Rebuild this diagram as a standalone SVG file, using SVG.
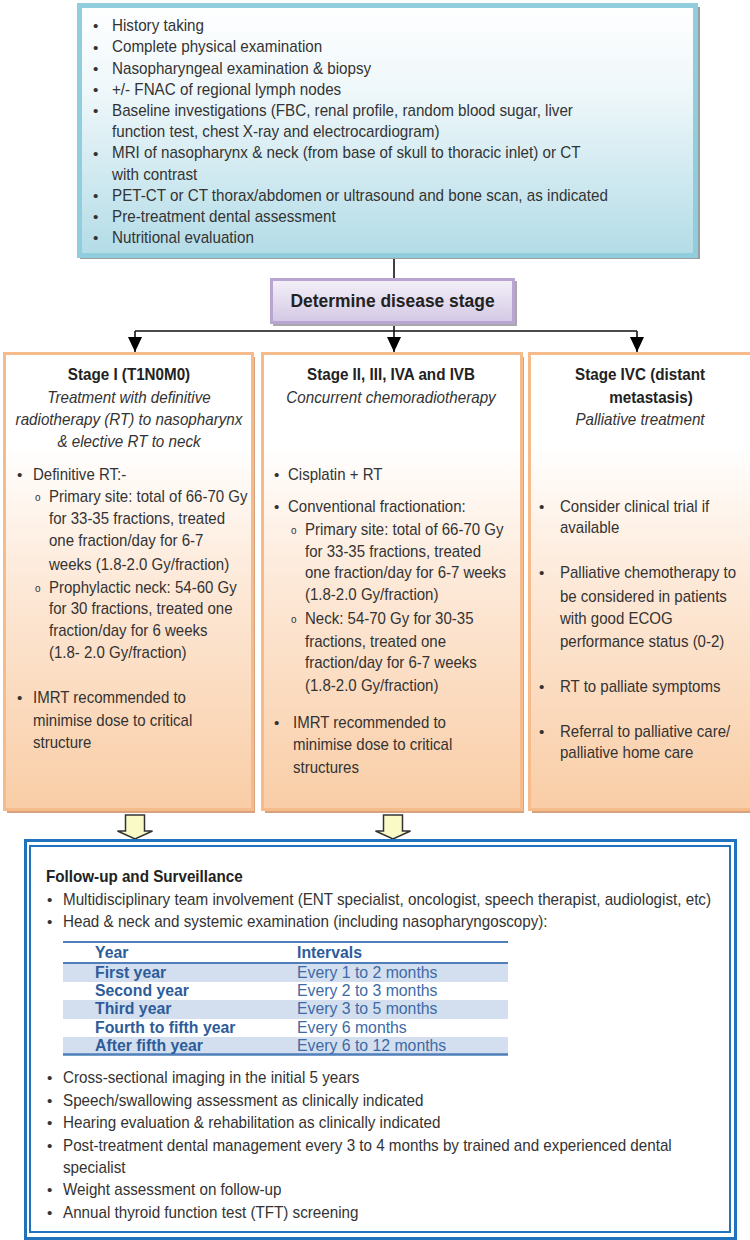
<svg xmlns="http://www.w3.org/2000/svg" width="750" height="1240" viewBox="0 0 750 1240">
<defs>
<linearGradient id="gTop" x1="0" y1="0" x2="0" y2="1">
<stop offset="0" stop-color="#ffffff"/>
<stop offset="0.35" stop-color="#eef7fa"/>
<stop offset="1" stop-color="#b3dce7"/>
</linearGradient>
<linearGradient id="gPur" x1="0" y1="0" x2="0" y2="1">
<stop offset="0" stop-color="#f4f0f9"/>
<stop offset="1" stop-color="#d3c8e4"/>
</linearGradient>
<linearGradient id="gStage" x1="0" y1="0" x2="0" y2="1">
<stop offset="0" stop-color="#ffffff"/>
<stop offset="0.2" stop-color="#ffffff"/>
<stop offset="0.5" stop-color="#fde9d8"/>
<stop offset="1" stop-color="#f9cda6"/>
</linearGradient>
<marker id="ah" markerUnits="userSpaceOnUse" markerWidth="16" markerHeight="16" refX="15" refY="7" orient="auto">
<path d="M0,0 L15,7 L0,14 z" fill="#000"/>
</marker>
<style>
text{font-family:"Liberation Sans",Arial,sans-serif;fill:#333}
.tb{font-size:16.4px}
.sb{font-size:16.2px}
.bu{font-size:15.2px}
.ttl{font-size:16.4px;font-weight:bold;fill:#222}
.it{font-size:16.4px;font-style:italic}
.sub{font-size:10px}
.th{font-size:15.8px;font-weight:bold;fill:#2d5c9b}
.tv{font-size:15.8px;fill:#3d6aa7}
.mid{text-anchor:middle}
.stage{fill:url(#gStage);stroke:#f6bb8b;stroke-width:3}
.stsh{fill:#d8a27c}
.blk{fill:#fafac6;stroke:#333;stroke-width:1.5}
.conn{stroke:#111;stroke-width:1.6;fill:none}
</style>
</defs>

<g id="connectors">
<line class="conn" x1="394" y1="258" x2="394" y2="279"/>
<line class="conn" x1="394" y1="323" x2="394" y2="331"/>
<line class="conn" x1="135" y1="331" x2="637" y2="331"/>
<line class="conn" x1="135" y1="331" x2="135" y2="352" marker-end="url(#ah)"/>
<line class="conn" x1="394" y1="331" x2="394" y2="352" marker-end="url(#ah)"/>
<line class="conn" x1="637" y1="331" x2="637" y2="352" marker-end="url(#ah)"/>
<polygon class="blk" points="125.5,815 144.5,815 144.5,831 152.5,831 135,839 117.5,831 125.5,831"/>
<polygon class="blk" points="383.5,815 402.5,815 402.5,831 410.5,831 393,839 375.5,831 383.5,831"/>
</g>

<g id="workup">
<rect x="80" y="7" width="620" height="252" fill="#9c9c9c"/>
<rect x="79.5" y="5.5" width="616" height="250" fill="url(#gTop)" stroke="#90cede" stroke-width="5"/>
<g class="bu">
<text x="93" y="31.3">•</text>
<text x="93" y="52.5">•</text>
<text x="93" y="73.7">•</text>
<text x="93" y="94.9">•</text>
<text x="93" y="116.1">•</text>
<text x="93" y="158.5">•</text>
<text x="93" y="200.9">•</text>
<text x="93" y="222.1">•</text>
<text x="93" y="243.3">•</text>
</g>
<g class="tb" transform="translate(112,0) scale(0.927,1)">
<text x="0" y="31.3">History taking</text>
<text x="0" y="52.5">Complete physical examination</text>
<text x="0" y="73.7">Nasopharyngeal examination &amp; biopsy</text>
<text x="0" y="94.9">+/- FNAC of regional lymph nodes</text>
<text x="0" y="116.1">Baseline investigations (FBC, renal profile, random blood sugar, liver</text>
<text x="0" y="137.3">function test, chest X-ray and electrocardiogram)</text>
<text x="0" y="158.5">MRI of nasopharynx &amp; neck (from base of skull to thoracic inlet) or CT</text>
<text x="0" y="179.7">with contrast</text>
<text x="0" y="200.9">PET-CT or CT thorax/abdomen or ultrasound and bone scan, as indicated</text>
<text x="0" y="222.1">Pre-treatment dental assessment</text>
<text x="0" y="243.3">Nutritional evaluation</text>
</g>
</g>

<g id="determine">
<rect x="273" y="281" width="244" height="45" fill="#a9a9a9"/>
<rect x="271.5" y="279.5" width="242" height="43" fill="url(#gPur)" stroke="#b8a5d2" stroke-width="3"/>
<g transform="translate(392.5,0) scale(0.927,1)">
<text x="0" y="307" class="mid" style="font-size:18.8px;font-weight:bold;fill:#222">Determine disease stage</text>
</g>
</g>

<g id="stage1">
<rect x="7" y="357" width="248" height="456" class="stsh"/>
<rect x="4.5" y="353.5" width="248" height="456" class="stage"/>
<g transform="translate(129,0) scale(0.927,1)">
<text x="0" y="380" class="ttl mid">Stage I (T1N0M0)</text>
<text x="0" y="403" class="it mid">Treatment with definitive</text>
<text x="0" y="425" class="it mid">radiotherapy (RT) to nasopharynx</text>
<text x="0" y="447" class="it mid">&amp; elective RT to neck</text>
</g>
<g class="bu">
<text x="17" y="480">•</text>
<text x="35" y="501" class="sub">o</text>
<text x="35" y="592" class="sub">o</text>
<text x="17" y="703">•</text>
</g>
<g class="sb" transform="translate(33,0) scale(0.927,1)">
<text x="0" y="480">Definitive RT:-</text>
<text x="0" y="703">IMRT recommended to</text>
<text x="0" y="726">minimise dose to critical</text>
<text x="0" y="748">structure</text>
</g>
<g class="sb" transform="translate(49,0) scale(0.927,1)">
<text x="0" y="502">Primary site: total of 66-70 Gy</text>
<text x="0" y="524">for 33-35 fractions, treated</text>
<text x="0" y="546">one fraction/day for 6-7</text>
<text x="0" y="570">weeks (1.8-2.0 Gy/fraction)</text>
<text x="0" y="593">Prophylactic neck: 54-60 Gy</text>
<text x="0" y="614">for 30 fractions, treated one</text>
<text x="0" y="636">fraction/day for 6 weeks</text>
<text x="0" y="658">(1.8- 2.0 Gy/fraction)</text>
</g>
</g>

<g id="stage2">
<rect x="265" y="357" width="259" height="456" class="stsh"/>
<rect x="262.5" y="353.5" width="259" height="456" class="stage"/>
<g transform="translate(391,0) scale(0.927,1)">
<text x="0" y="380" class="ttl mid">Stage II, III, IVA and IVB</text>
<text x="0" y="403" class="it mid">Concurrent chemoradiotherapy</text>
</g>
<g class="bu">
<text x="274" y="480">•</text>
<text x="274" y="512">•</text>
<text x="291" y="534" class="sub">o</text>
<text x="291" y="623" class="sub">o</text>
<text x="274" y="728">•</text>
</g>
<g class="sb" transform="translate(288,0) scale(0.927,1)">
<text x="0" y="480">Cisplatin + RT</text>
<text x="0" y="512">Conventional fractionation:</text>
</g>
<g class="sb" transform="translate(305,0) scale(0.927,1)">
<text x="0" y="535">Primary site: total of 66-70 Gy</text>
<text x="0" y="557">for 33-35 fractions, treated</text>
<text x="0" y="578">one fraction/day for 6-7 weeks</text>
<text x="0" y="600">(1.8-2.0 Gy/fraction)</text>
<text x="0" y="624">Neck: 54-70 Gy for 30-35</text>
<text x="0" y="647">fractions, treated one</text>
<text x="0" y="668">fraction/day for 6-7 weeks</text>
<text x="0" y="691">(1.8-2.0 Gy/fraction)</text>
</g>
<g class="sb" transform="translate(293,0) scale(0.927,1)">
<text x="0" y="728">IMRT recommended to</text>
<text x="0" y="750">minimise dose to critical</text>
<text x="0" y="773">structures</text>
</g>
</g>

<g id="stage4c">
<rect x="532" y="357" width="240" height="456" class="stsh"/>
<rect x="529.5" y="353.5" width="240" height="456" class="stage"/>
<g transform="translate(640,0) scale(0.927,1)">
<text x="0" y="380" class="ttl mid">Stage IVC (distant</text>
<text x="0" y="425" class="it mid">Palliative treatment</text>
</g>
<g transform="translate(651,0) scale(0.927,1)">
<text x="0" y="403" class="ttl mid">metastasis)</text>
</g>
<g class="bu">
<text x="539" y="512">•</text>
<text x="539" y="578">•</text>
<text x="539" y="692">•</text>
<text x="539" y="737">•</text>
</g>
<g class="sb" transform="translate(560,0) scale(0.927,1)">
<text x="0" y="512">Consider clinical trial if</text>
<text x="0" y="533">available</text>
<text x="0" y="578">Palliative chemotherapy to</text>
<text x="0" y="602">be considered in patients</text>
<text x="0" y="624">with good ECOG</text>
<text x="0" y="647">performance status (0-2)</text>
<text x="0" y="692">RT to palliate symptoms</text>
<text x="0" y="737">Referral to palliative care/</text>
<text x="0" y="758">palliative home care</text>
</g>
</g>

<g id="followup">
<rect x="25.5" y="840.5" width="710" height="398" fill="#fff" stroke="#1f72bb" stroke-width="3"/>
<rect x="30" y="846" width="700" height="386" fill="none" stroke="#1f72bb" stroke-width="2"/>
<g transform="translate(46,0) scale(0.927,1)">
<text x="0" y="882" class="ttl">Follow-up and Surveillance</text>
</g>
<g class="bu">
<text x="47" y="905">•</text>
<text x="47" y="927">•</text>
<text x="47" y="1083">•</text>
<text x="47" y="1106">•</text>
<text x="47" y="1128">•</text>
<text x="47" y="1151">•</text>
<text x="47" y="1195">•</text>
<text x="47" y="1218">•</text>
</g>
<g class="tb" transform="translate(63,0) scale(0.927,1)">
<text x="0" y="905">Multidisciplinary team involvement (ENT specialist, oncologist, speech therapist, audiologist, etc)</text>
<text x="0" y="927">Head &amp; neck and systemic examination (including nasopharyngoscopy):</text>
<text x="0" y="1083">Cross-sectional imaging in the initial 5 years</text>
<text x="0" y="1106">Speech/swallowing assessment as clinically indicated</text>
<text x="0" y="1128">Hearing evaluation &amp; rehabilitation as clinically indicated</text>
<text x="0" y="1151">Post-treatment dental management every 3 to 4 months by trained and experienced dental</text>
<text x="0" y="1173">specialist</text>
<text x="0" y="1195">Weight assessment on follow-up</text>
<text x="0" y="1218">Annual thyroid function test (TFT) screening</text>
</g>
<g id="table">
<rect x="63" y="963" width="445" height="19" fill="#d3dfee"/>
<rect x="63" y="1000" width="445" height="19" fill="#d3dfee"/>
<rect x="63" y="1037" width="445" height="17" fill="#d3dfee"/>
<line x1="63" y1="942" x2="508" y2="942" stroke="#4f7fbb" stroke-width="2"/>
<line x1="63" y1="963" x2="508" y2="963" stroke="#4f7fbb" stroke-width="2"/>
<line x1="63" y1="1054.5" x2="508" y2="1054.5" stroke="#4f7fbb" stroke-width="2.5"/>
<text x="95" y="958" class="th">Year</text><text x="297" y="958" class="th">Intervals</text>
<text x="95" y="977.5" class="th">First year</text><text x="297" y="977.5" class="tv">Every 1 to 2 months</text>
<text x="95" y="995.5" class="th">Second year</text><text x="297" y="995.5" class="tv">Every 2 to 3 months</text>
<text x="95" y="1014" class="th">Third year</text><text x="297" y="1014" class="tv">Every 3 to 5 months</text>
<text x="95" y="1032.5" class="th">Fourth to fifth year</text><text x="297" y="1032.5" class="tv">Every 6 months</text>
<text x="95" y="1051" class="th">After fifth year</text><text x="297" y="1051" class="tv">Every 6 to 12 months</text>
</g>
</g>
</svg>
